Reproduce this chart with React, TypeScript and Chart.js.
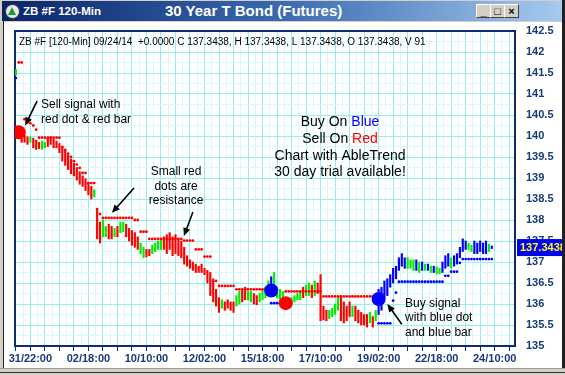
import React, { useEffect, useRef } from 'react';
import { Chart, registerables } from 'chart.js';

Chart.register(...registerables);

// ---- data (bar index = one 120-min bar) ----
const BAR_HIGHS = [
  141.58, 140.2, 140.15, 140.02, 139.98, 139.98, 139.95, 139.9, 139.85, 139.88,
  139.85, 139.95, 139.98, 139.92, 139.88, 139.82, 139.75, 139.65, 139.55, 139.45,
  139.35, 139.25, 139.15, 139.05, 138.98, 138.9, 138.8, 138.72, 138.25, 137.95,
  138.0, 137.85, 137.9, 137.85, 137.8, 137.85, 137.95, 137.95, 137.9, 137.8,
  137.75, 137.7, 137.6, 137.45, 137.35, 137.3, 137.3, 137.4, 137.45, 137.5,
  137.55, 137.6, 137.65, 137.7, 137.6, 137.65, 137.55, 137.5, 137.35, 137.15,
  137.05, 137.0, 136.95, 136.9, 136.95, 136.85, 136.8, 136.75, 136.6, 136.35,
  136.15, 136.1, 136.05, 136.1, 136.05, 136.05, 136.2, 136.3, 136.35, 136.4,
  136.3, 136.3, 136.25, 136.2, 136.25, 136.35, 136.4, 136.55, 136.65, 136.75,
  136.4, 136.35, 136.3, 136.15, 136.1, 136.15, 136.2, 136.25, 136.3, 136.4,
  136.45, 136.5, 136.45, 136.55, 136.5, 136.7, 135.95, 135.85, 135.85, 135.9,
  136.0, 136.15, 136.2, 136.05, 135.95, 136.05, 135.95, 135.95, 135.85, 135.8,
  135.75, 135.75, 135.8, 135.7, 135.85, 136.35, 136.4, 136.55, 136.6, 136.7,
  136.85, 136.9, 137.1, 137.2, 137.1, 137.1, 137.05, 137.05, 137.05, 137.0,
  137.0, 136.95, 136.95, 136.9, 136.9, 136.88, 136.85, 137.0, 137.15, 137.2,
  137.1, 137.15, 137.2, 137.35, 137.55, 137.5, 137.45, 137.4, 137.5, 137.45,
  137.5, 137.45, 137.5, 137.42, 137.38,
];
const BAR_LOWS = [
  141.45, 139.95, 139.85, 139.85, 139.8, 139.85, 139.72, 139.68, 139.7, 139.68,
  139.72, 139.75, 139.8, 139.72, 139.72, 139.6, 139.4, 139.3, 139.2, 139.1,
  139.05, 138.95, 138.85, 138.8, 138.7, 138.6, 138.5, 138.55, 137.55, 137.45,
  137.6, 137.6, 137.55, 137.55, 137.6, 137.6, 137.7, 137.72, 137.6, 137.5,
  137.4, 137.35, 137.3, 137.2, 137.1, 137.12, 137.15, 137.2, 137.25, 137.3,
  137.3, 137.3, 137.2, 137.3, 137.15, 137.2, 137.15, 137.1, 136.95, 136.9,
  136.85, 136.8, 136.75, 136.75, 136.75, 136.7, 136.5, 136.2, 136.05, 135.95,
  135.8, 135.9, 135.85, 135.9, 135.85, 135.8, 135.95, 136.0, 136.05, 136.1,
  136.1, 136.05, 136.0, 135.98, 136.05, 136.1, 136.15, 136.3, 136.35, 136.3,
  136.15, 136.1, 136.1, 135.95, 135.98, 136.0, 136.05, 136.1, 136.1, 136.15,
  136.2, 136.2, 136.15, 136.2, 136.25, 135.6, 135.62, 135.6, 135.65, 135.7,
  135.75, 135.85, 135.6, 135.55, 135.6, 135.7, 135.7, 135.6, 135.55, 135.5,
  135.5, 135.45, 135.55, 135.45, 135.6, 135.75, 135.85, 136.15, 136.2, 136.4,
  136.5, 136.6, 136.8, 136.9, 136.85, 136.85, 136.85, 136.8, 136.8, 136.75,
  136.8, 136.8, 136.8, 136.75, 136.75, 136.72, 136.72, 136.75, 136.85, 136.9,
  136.85, 136.9, 136.95, 137.1, 137.25, 137.3, 137.3, 137.25, 137.2, 137.2,
  137.25, 137.2, 137.2, 137.25, 137.32,
];
// R = sell trend bar, G = correction bar, B = buy trend bar
const BAR_KINDS = (
  'GRRRRGRRRG' + 'GRRRRRRRRR' + 'RRRRRRRGRR' + 'GGRRGRGGRR' + 'RRRGGRRGGG' +
  'GRRRRRRRRR' + 'RRRRRRRRRR' + 'RGRRRRGGRR' + 'GGRRGGGGBG' + 'GGGRRGGGGR' +
  'GGRGRRRRGG' + 'GGRRRRGRRR' + 'RRGRGBBBBB' + 'BBBBBGGGBG' + 'BGBGBGGBBB' +
  'GBBBBBGGBB' + 'BBBGB'
).split('');

const STOP_VALUES = [
  141.38, 141.75, 141.75, 140.4, 140.32, 140.3, 140.25, 140.15, 139.96, 139.96,
  139.96, 139.96, 139.96, 139.96, 139.96, 139.96, 139.74, 139.67, 139.58, 139.5,
  139.4, 139.32, 139.24, 139.12, 139.12, 138.88, 138.88, 138.88, 138.26, 138.14,
  138.05, 138.05, 138.05, 138.05, 138.05, 138.05, 138.05, 138.05, 138.05, 138.05,
  138.05, 138.0, 138.0, 137.72, 137.72, 137.72, 137.55, 137.55, 137.55, 137.55,
  137.55, 137.55, 137.55, 137.55, 137.55, 137.55, 137.55, 137.55, 137.51, 137.51,
  137.51, 137.51, 137.3, 137.3, 137.3, 137.13, 137.13, 137.13, 136.55, 136.55,
  136.43, 136.43, 136.43, 136.43, 136.43, 136.43, 136.35, 136.35, 136.35, 136.35,
  136.35, 136.35, 136.35, 136.35, 136.35, 136.35, 136.35, 136.35, 136.02, 136.02,
  136.02, 136.02, 136.02, 136.3, 136.3, 136.3, 136.3, 136.3, 136.3, 136.3,
  136.3, 136.3, 136.3, 136.3, 136.3, 136.3, 136.18, 136.18, 136.18, 136.18,
  136.18, 136.18, 136.18, 136.18, 136.18, 136.18, 136.18, 136.18, 136.18, 136.18,
  136.18, 136.18, 136.18, 136.18, 136.18, 135.54, 135.54, 135.54, 135.54, 135.54,
  136.08, 136.27, 136.53, 136.53, 136.53, 136.53, 136.53, 136.53, 136.53, 136.53,
  136.53, 136.53, 136.53, 136.53, 136.53, 136.53, 136.53, 136.53, 136.67, 136.67,
  136.77, 136.77, 136.77, 136.98, 137.07, 137.07, 137.07, 137.07, 137.07, 137.07,
  137.07, 137.07, 137.07, 137.07, 137.07,
];
const STOP_KINDS = (
  'BRRRRRRRRR' + 'RRRRRRRRRR' + 'RRRRRRRRRR' + 'RRRRRRRRRR' + 'RRRRRRRRRR' +
  'RRRRRRRRRR' + 'RRRRRRRRRR' + 'RRRRRRRRRR' + 'RRRRRRRRBB' + 'BBBRRRRRRR' +
  'RRRRRRRRRR' + 'RRRRRRRRRR' + 'RRRRRBBBBB' + 'BBBBBBBBBB' + 'BBBBBBBBBB' +
  'BBBBBBBBBB' + 'BBBBB'
).split('');

const SIGNAL_BARS = [1, 88, 93, 125];
const SIGNAL_PRICES = [140.09, 136.32, 136.02, 136.12];
const SIGNAL_KINDS = ['R', 'B', 'R', 'B'];

const X_LABEL_BARS = [5, 25, 45, 65, 85, 105, 125, 145, 165];
const X_LABELS = ['31/22:00', '02/18:00', '10/10:00', '12/02:00', '15/18:00', '17/10:00', '19/02:00', '22/18:00', '24/10:00'];
const Y_TICKS = [135, 135.5, 136, 136.5, 137, 137.5, 138, 138.5, 139, 139.5, 140, 140.5, 141, 141.5, 142, 142.5];
const LAST_PRICE = 137.3438;
const HEADER_TEXT = 'ZB #F [120-Min] 09/24/14  +0.0000 C 137.3438, H 137.3438, L 137.3438, O 137.3438, V 91';

// ---- styles ----
const FONT = "Arial, 'Liberation Sans', sans-serif";
const NAVY = '#0d2c6c';
const LABEL_NAVY = '#163a78';
const KIND_COLOR: Record<string, string> = { R: '#ff0000', G: '#00ee00', B: '#0000ff' };
const GRID_MAJOR = '#97eeee';
const GRID_MINOR = '#dcf8f8';

function drawArrow(ctx: CanvasRenderingContext2D, x1: number, y1: number, x2: number, y2: number) {
  const ang = Math.atan2(y2 - y1, x2 - x1);
  const hl = 8, hw = 3.5;
  ctx.beginPath();
  ctx.moveTo(x1, y1);
  ctx.lineTo(x2 - Math.cos(ang) * hl * 0.7, y2 - Math.sin(ang) * hl * 0.7);
  ctx.stroke();
  ctx.beginPath();
  ctx.moveTo(x2, y2);
  ctx.lineTo(x2 - hl * Math.cos(ang) + hw * Math.sin(ang), y2 - hl * Math.sin(ang) - hw * Math.cos(ang));
  ctx.lineTo(x2 - hl * Math.cos(ang) - hw * Math.sin(ang), y2 - hl * Math.sin(ang) + hw * Math.cos(ang));
  ctx.closePath();
  ctx.fill();
}

const overlayPlugin = {
  id: 'overlay',
  beforeDraw(chart: any) {
    const { ctx, width, height } = chart;
    ctx.save();
    ctx.fillStyle = '#ffffff';
    ctx.fillRect(0, 0, width, height);
    ctx.restore();
  },
  beforeDatasetsDraw(chart: any) {
    const { ctx, chartArea: a } = chart;
    ctx.save();
    ctx.strokeStyle = NAVY;
    ctx.lineWidth = 2;
    ctx.strokeRect(a.left, a.top, a.right - a.left, a.bottom - a.top);
    ctx.restore();
  },
  afterDatasetsDraw(chart: any) {
    const { ctx, chartArea: a, width } = chart;
    const X = (v: number) => chart.scales.x.getPixelForValue(v);
    const Y = (v: number) => chart.scales.y.getPixelForValue(v);
    ctx.save();
    ctx.textBaseline = 'middle';

    // header line
    ctx.fillStyle = '#000';
    ctx.font = `10px ${FONT}`;
    ctx.textAlign = 'left';
    ctx.fillText(HEADER_TEXT, a.left + 4, a.top + 11);

    // callouts
    ctx.font = `12px ${FONT}`;
    ctx.fillText('Sell signal with', X(8.66), Y(140.74));
    ctx.fillText('red dot & red bar', X(8.66), Y(140.4));
    ctx.textAlign = 'center';
    ctx.fillText('Small red', X(55.2), Y(139.14));
    ctx.fillText('dots are', X(55.2), Y(138.79));
    ctx.fillText('resistance', X(55.2), Y(138.45));
    ctx.textAlign = 'left';
    ctx.fillText('Buy signal', X(134.1), Y(136.0));
    ctx.fillText('with blue dot', X(134.1), Y(135.67));
    ctx.fillText('and blue bar', X(134.1), Y(135.32));

    // centre block
    ctx.font = `14px ${FONT}`;
    const cx = X(111.7);
    const twoTone = (a1: string, a2: string, c2: string, yv: number) => {
      const w1 = ctx.measureText(a1).width;
      const w2 = ctx.measureText(a2).width;
      const sx = cx - (w1 + w2) / 2;
      ctx.textAlign = 'left';
      ctx.fillStyle = '#000';
      ctx.fillText(a1, sx, Y(yv));
      ctx.fillStyle = c2;
      ctx.fillText(a2, sx + w1, Y(yv));
    };
    twoTone('Buy On ', 'Blue', '#0000ff', 140.33);
    twoTone('Sell On ', 'Red', '#ff0000', 139.93);
    ctx.fillStyle = '#000';
    ctx.textAlign = 'center';
    ctx.fillText('Chart with AbleTrend', cx, Y(139.53));
    ctx.fillText('30 day trial available!', cx, Y(139.15));

    // arrows
    ctx.strokeStyle = '#000';
    ctx.fillStyle = '#000';
    ctx.lineWidth = 1.6;
    drawArrow(ctx, X(7.3), Y(140.83), X(3.2), Y(140.25));
    drawArrow(ctx, X(40.7), Y(138.76), X(33.1), Y(138.17));
    drawArrow(ctx, X(61.0), Y(138.19), X(57.9), Y(137.62));
    drawArrow(ctx, X(133.0), Y(135.52), X(128.0), Y(136.0));

    // last price box
    const py = Y(LAST_PRICE);
    ctx.fillStyle = '#0000ff';
    ctx.fillRect(a.right + 2, py - 8.5, width - a.right - 2, 17);
    ctx.fillStyle = '#ffff00';
    ctx.font = `bold 11px ${FONT}`;
    ctx.textAlign = 'left';
    ctx.fillText(LAST_PRICE.toFixed(4), a.right + 5, py + 0.5);
    ctx.restore();
  },
};

export default function App() {
  const ref = useRef<HTMLCanvasElement>(null);

  useEffect(() => {
    document.body.style.margin = '0';
    const canvas = ref.current!;
    const chart = new Chart(canvas, {
      type: 'bar',
      data: {
        datasets: [
          {
            type: 'scatter',
            label: 'signals',
            data: SIGNAL_BARS.map((b, i) => ({ x: b, y: SIGNAL_PRICES[i] })),
            pointRadius: 7,
            pointBackgroundColor: SIGNAL_KINDS.map((k) => KIND_COLOR[k]),
            pointBorderWidth: 0,
            order: 0,
          } as any,
          {
            type: 'scatter',
            label: 'stops',
            data: STOP_VALUES.map((v, i) => ({ x: i, y: v })),
            pointRadius: 1.4,
            pointBackgroundColor: STOP_KINDS.map((k) => KIND_COLOR[k]),
            pointBorderWidth: 0,
            order: 1,
          } as any,
          {
            type: 'bar',
            label: 'bars',
            data: BAR_HIGHS.map((h, i) => ({ x: i, y: [BAR_LOWS[i], h] })),
            backgroundColor: BAR_KINDS.map((k) => KIND_COLOR[k]),
            borderWidth: 0,
            barThickness: 1.5,
            order: 2,
          } as any,
        ],
      },
      options: {
        responsive: false,
        animation: false,
        events: [],
        layout: { padding: { left: 15, top: 31, right: 0, bottom: 0 } },
        plugins: { legend: { display: false }, tooltip: { enabled: false } },
        scales: {
          x: {
            type: 'linear',
            min: -0.3,
            max: 172,
            offset: false,
            afterBuildTicks: (s: any) => {
              const t = [];
              for (let v = 0; v <= 170; v += 2.5) t.push({ value: v });
              s.ticks = t;
            },
            afterFit: (s: any) => { s.height = 29; },
            ticks: {
              autoSkip: false,
              maxRotation: 0,
              padding: 1,
              color: LABEL_NAVY,
              font: { family: FONT, size: 11, weight: 'bold' },
              callback: (v: any) => {
                const k = X_LABEL_BARS.indexOf(Number(v));
                return k >= 0 ? X_LABELS[k] : '';
              },
            },
            grid: {
              offset: false,
              color: (c: any) => (c.tick && c.tick.value % 5 === 0 ? GRID_MAJOR : GRID_MINOR),
              tickColor: (c: any) => (c.tick && c.tick.value % 5 === 0 ? NAVY : 'rgba(0,0,0,0)'),
              tickLength: 5,
              lineWidth: 1,
            },
            border: { color: NAVY, width: 2 },
          },
          y: {
            type: 'linear',
            position: 'right',
            min: 135,
            max: 142.5,
            afterBuildTicks: (s: any) => {
              const t = [];
              for (let v = 135; v <= 142.5; v += 0.25) t.push({ value: v });
              s.ticks = t;
            },
            afterFit: (s: any) => { s.width = 50; },
            ticks: {
              autoSkip: false,
              padding: 11,
              color: LABEL_NAVY,
              font: { family: FONT, size: 11, weight: 'bold' },
              callback: (v: any) => (Y_TICKS.indexOf(Number(v)) >= 0 ? String(v) : ''),
            },
            grid: {
              color: (c: any) => (c.tick && (c.tick.value * 2) % 1 === 0 ? GRID_MAJOR : GRID_MINOR),
              drawTicks: false,
              lineWidth: 1,
            },
            border: { color: NAVY, width: 2 },
          },
        },
      } as any,
      plugins: [overlayPlugin],
    });
    return () => chart.destroy();
  }, []);

  const btn: React.CSSProperties = {
    position: 'absolute',
    top: 3,
    width: 13,
    height: 12,
    background: '#d4d0c8',
    borderTop: '1px solid #ffffff',
    borderLeft: '1px solid #ffffff',
    borderRight: '1px solid #404040',
    borderBottom: '1px solid #404040',
    color: '#000',
    fontFamily: FONT,
    fontWeight: 'bold',
    fontSize: 11,
    lineHeight: '12px',
    textAlign: 'center',
  };

  return (
    <div style={{ position: 'relative', width: 565, height: 375, overflow: 'hidden', background: '#fff' }}>
      <canvas ref={ref} width={565} height={375} style={{ position: 'absolute', left: 0, top: 0 }} />
      {/* window frame */}
      <div style={{ position: 'absolute', left: 0, top: 0, width: 565, height: 22, background: '#d4d0c8' }} />
      <div
        style={{
          position: 'absolute',
          left: 2,
          top: 1,
          width: 560,
          height: 20,
          background: 'linear-gradient(to right, #0a246a 0%, #3a6ab0 50%, #a6caf0 100%)',
        }}
      >
        <div
          style={{
            position: 'absolute',
            left: 3,
            top: 3,
            width: 13,
            height: 13,
            borderRadius: '50%',
            background: '#e8e8e8',
            border: '1px solid #333',
          }}
        >
          <div
            style={{
              position: 'absolute',
              left: 2,
              top: 2,
              width: 0,
              height: 0,
              borderLeft: '4.5px solid transparent',
              borderRight: '4.5px solid transparent',
              borderBottom: '8px solid #1a9a3a',
            }}
          />
        </div>
        <div
          style={{
            position: 'absolute',
            left: 21,
            top: 3,
            color: '#fff',
            fontFamily: FONT,
            fontWeight: 'bold',
            fontSize: 11.5,
            lineHeight: '14px',
            whiteSpace: 'nowrap',
          }}
        >
          ZB #F 120-Min
        </div>
        <div
          style={{
            position: 'absolute',
            left: 163,
            top: 1,
            color: '#fff',
            fontFamily: FONT,
            fontWeight: 'bold',
            fontSize: 15,
            lineHeight: '18px',
            whiteSpace: 'nowrap',
          }}
        >
          30 Year T Bond (Futures)
        </div>
        <div style={{ ...btn, left: 474 }}>_</div>
        <div style={{ ...btn, left: 488 }}>□</div>
        <div style={{ ...btn, left: 502 }}>×</div>
      </div>
      <div style={{ position: 'absolute', left: 0, top: 21, width: 3, height: 354, background: '#d4d0c8', borderRight: '1px solid #202020' }} />
      <div style={{ position: 'absolute', left: 562, top: 0, width: 3, height: 375, background: '#202020' }} />
      <div
        style={{
          position: 'absolute',
          left: 0,
          top: 368,
          width: 565,
          height: 7,
          background: '#d4d0c8',
          borderTop: '1px solid #a0a0a0',
          boxSizing: 'border-box',
        }}
      >
        <div style={{ position: 'absolute', left: 0, top: 3, width: 565, height: 1, background: '#303030' }} />
      </div>
    </div>
  );
}
